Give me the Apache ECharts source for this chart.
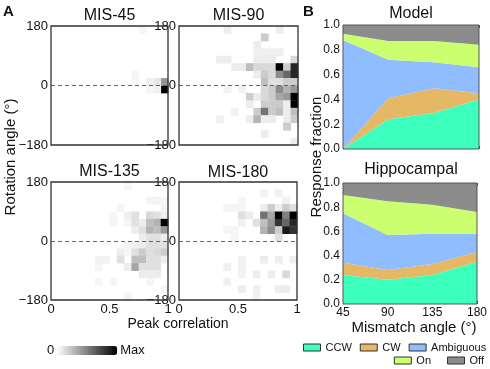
<!DOCTYPE html>
<html><head><meta charset="utf-8">
<script src="https://cdn.jsdelivr.net/npm/echarts@6/dist/echarts.min.js"></script>
<style>html,body{margin:0;padding:0;background:#fff}#c{width:490px;height:369px}</style>
</head><body><div id="c"></div>
<script>
const FONT = '"Liberation Sans", Arial, Helvetica, sans-serif';

// ---------- Panel A: 2-D histograms, 16 x 16 bins ----------
// each cell: [x bin (0 = peak corr 0..0.0625), y bin counted from top (0 = 157.5..180 deg), relative density 0..1]
const heatTitles = ['MIS-45', 'MIS-90', 'MIS-135', 'MIS-180'];
const heatXTicks = [0, 0.5, 1];
const heatYTicks = [-180, 0, 180];
const mis45Cells = [
  [15, 8, 1.0], [15, 7, 0.42], [14, 7, 0.10], [13, 7, 0.06], [14, 8, 0.06], [13, 8, 0.04],
  [11, 6, 0.04], [11, 7, 0.03], [12, 0, 0.03]
];
const mis90Cells = [
  [6, 0, 0.07], [13, 0, 0.07],
  [11, 1, 0.20],
  [10, 2, 0.07],
  [10, 3, 0.06], [11, 3, 0.06], [12, 3, 0.06], [13, 3, 0.06],
  [5, 4, 0.07], [6, 4, 0.07], [10, 4, 0.07], [11, 4, 0.07], [12, 4, 0.07], [15, 4, 0.15],
  [7, 5, 0.07], [8, 5, 0.07], [9, 5, 0.25], [10, 5, 0.15], [11, 5, 0.15], [12, 5, 0.15], [13, 5, 1.0], [14, 5, 0.20], [15, 5, 0.85],
  [10, 6, 0.07], [11, 6, 0.20], [12, 6, 0.15], [13, 6, 0.45], [14, 6, 0.60], [15, 6, 0.85],
  [11, 7, 0.25], [12, 7, 0.12], [13, 7, 0.12], [14, 7, 0.20], [15, 7, 0.20],
  [6, 8, 0.05], [8, 8, 0.05], [11, 8, 0.15], [12, 8, 0.20], [13, 8, 0.45], [14, 8, 0.30], [15, 8, 0.40],
  [9, 9, 0.20], [10, 9, 0.07], [11, 9, 0.15], [12, 9, 0.20], [13, 9, 0.35], [14, 9, 0.40], [15, 9, 1.0],
  [9, 10, 0.07], [11, 10, 0.20], [12, 10, 0.20], [13, 10, 0.20], [14, 10, 0.07], [15, 10, 1.0],
  [7, 11, 0.05], [10, 11, 0.20], [11, 11, 0.55], [12, 11, 0.20], [13, 11, 0.25], [14, 11, 0.07], [15, 11, 0.25],
  [5, 12, 0.06], [9, 12, 0.07], [10, 12, 0.30], [11, 12, 0.07], [12, 12, 0.07], [14, 12, 0.07], [15, 12, 0.20],
  [14, 13, 0.20],
  [11, 14, 0.07],
  [15, 15, 0.07]
];
const mis135Cells = [
  [10, 0, 0.03],
  [13, 2, 0.04], [14, 2, 0.05], [15, 2, 0.03],
  [9, 3, 0.04], [15, 3, 0.04],
  [8, 4, 0.03], [10, 4, 0.06], [11, 4, 0.12], [13, 4, 0.15], [14, 4, 0.12], [15, 4, 0.06],
  [8, 5, 0.04], [10, 5, 0.04], [11, 5, 0.12], [12, 5, 0.07], [13, 5, 0.25], [14, 5, 0.30], [15, 5, 1.0],
  [11, 6, 0.07], [12, 6, 0.12], [13, 6, 0.30], [14, 6, 0.25], [15, 6, 0.40],
  [12, 7, 0.07], [13, 7, 0.12], [14, 7, 0.12], [15, 7, 0.07],
  [10, 8, 0.04], [11, 8, 0.06], [12, 8, 0.07], [13, 8, 0.12], [14, 8, 0.12], [15, 8, 0.12],
  [9, 9, 0.07], [10, 9, 0.04], [11, 9, 0.12], [12, 9, 0.20], [13, 9, 0.12], [14, 9, 0.15], [15, 9, 0.20],
  [6, 10, 0.05], [7, 10, 0.05], [9, 10, 0.12], [11, 10, 0.25], [12, 10, 0.25], [13, 10, 0.12], [14, 10, 0.12], [15, 10, 0.07],
  [6, 11, 0.04], [10, 11, 0.07], [11, 11, 0.35], [12, 11, 0.12], [13, 11, 0.12], [14, 11, 0.12],
  [12, 12, 0.07], [13, 12, 0.07], [14, 12, 0.07],
  [6, 13, 0.04], [8, 13, 0.04], [13, 13, 0.04],
  [15, 14, 0.04],
  [10, 15, 0.04]
];
const mis180Cells = [
  [11, 1, 0.05], [13, 1, 0.05],
  [8, 2, 0.04], [14, 2, 0.06],
  [6, 3, 0.04], [7, 3, 0.04], [8, 3, 0.04], [11, 3, 0.07], [12, 3, 0.20], [13, 3, 0.07], [14, 3, 0.20], [15, 3, 0.12],
  [8, 4, 0.12], [9, 4, 0.07], [11, 4, 0.55], [12, 4, 0.35], [13, 4, 1.0], [14, 4, 0.50], [15, 4, 1.0],
  [8, 5, 0.05], [10, 5, 0.12], [11, 5, 0.25], [12, 5, 0.40], [13, 5, 0.80], [14, 5, 0.60], [15, 5, 0.85],
  [6, 6, 0.04], [7, 6, 0.04], [11, 6, 0.30], [12, 6, 0.45], [13, 6, 0.20], [14, 6, 0.90], [15, 6, 0.80],
  [7, 7, 0.04], [13, 7, 0.12],
  [8, 10, 0.05], [11, 10, 0.07], [13, 10, 0.07], [15, 10, 0.06],
  [6, 11, 0.06], [8, 11, 0.06],
  [8, 12, 0.05], [10, 12, 0.07], [12, 12, 0.07], [14, 12, 0.15],
  [6, 13, 0.06],
  [8, 14, 0.07], [10, 14, 0.06], [13, 14, 0.07], [14, 14, 0.07],
  [10, 15, 0.05]
];
const heatCells = [mis45Cells, mis90Cells, mis135Cells, mis180Cells];
const X_BINS = 16, Y_BINS = 16;
const X_STEP = 1 / X_BINS, Y_STEP = 360 / Y_BINS;

// ---------- Panel B: stacked response fractions ----------
const mismatchAngles = ['45', '90', '135', '180'];
const responseNames = ['CCW', 'CW', 'Ambiguous', 'On', 'Off'];
const responseColors = ['#3cffbe', '#e6b865', '#8fbdff', '#ccff70', '#8c8c8c'];
const modelCCW = [0.00, 0.24, 0.29, 0.40];
const modelCW = [0.00, 0.17, 0.20, 0.05];
const modelAmbiguous = [0.88, 0.31, 0.21, 0.21];
const modelOn = [0.05, 0.15, 0.17, 0.18];
const modelOff = [0.07, 0.13, 0.13, 0.16];
const hippoCCW = [0.24, 0.20, 0.24, 0.35];
const hippoCW = [0.10, 0.08, 0.09, 0.08];
const hippoAmbiguous = [0.41, 0.29, 0.25, 0.15];
const hippoOn = [0.15, 0.28, 0.24, 0.18];
const hippoOff = [0.10, 0.15, 0.18, 0.24];
const modelSeries = [modelCCW, modelCW, modelAmbiguous, modelOn, modelOff];
const hippoSeries = [hippoCCW, hippoCW, hippoAmbiguous, hippoOn, hippoOff];
const responseTicks = [0, 0.2, 0.4, 0.6, 0.8, 1.0];

// ---------- layout ----------
const gridsA = [
  {left: 51, top: 26, width: 117, height: 119},
  {left: 179, top: 26, width: 119, height: 119},
  {left: 51, top: 182, width: 117, height: 118},
  {left: 179, top: 182, width: 118, height: 118}
];
const gridsB = [
  {left: 343, top: 25, width: 136, height: 124},
  {left: 343, top: 183, width: 136, height: 121}
];
const grid = [];
gridsA.forEach(g => grid.push(Object.assign({show: true, backgroundColor: 'transparent', borderColor: '#333', borderWidth: 1.3, z: 10}, g)));
gridsB.forEach(g => grid.push(Object.assign({show: true, backgroundColor: 'transparent', borderColor: '#555', borderWidth: 1, z: 10}, g)));

const xAxis = [], yAxis = [], series = [];
for (let i = 0; i < 4; i++) {
  xAxis.push({
    type: 'value', gridIndex: i, min: heatXTicks[0], max: heatXTicks[2], interval: heatXTicks[1] - heatXTicks[0],
    axisLine: {show: false}, axisTick: {show: false}, splitLine: {show: false},
    axisLabel: {show: i >= 2, fontSize: 13, margin: 3, color: '#111', fontFamily: FONT}
  });
  yAxis.push({
    type: 'value', gridIndex: i, min: heatYTicks[0], max: heatYTicks[2], interval: heatYTicks[1] - heatYTicks[0],
    axisLine: {show: false}, axisTick: {show: false}, splitLine: {show: false},
    axisLabel: {fontSize: 13, margin: 3, color: '#111', fontFamily: FONT,
      formatter: v => String(v).replace('-', '\u2212')}
  });
}
for (let p = 0; p < 2; p++) {
  xAxis.push({
    type: 'category', gridIndex: 4 + p, data: mismatchAngles, boundaryGap: false,
    axisLine: {show: false}, axisTick: {show: true, inside: true, length: 3, lineStyle: {color: '#555'}},
    splitLine: {show: false},
    axisLabel: {show: p === 1, interval: 0, fontSize: 12, margin: 3, color: '#111', fontFamily: FONT}
  });
  yAxis.push({
    type: 'value', gridIndex: 4 + p, min: responseTicks[0], max: responseTicks[5], interval: responseTicks[1] - responseTicks[0],
    axisLine: {show: false}, axisTick: {show: false}, splitLine: {show: false},
    axisLabel: {fontSize: 12, margin: 3, color: '#111', fontFamily: FONT, formatter: v => v.toFixed(1)}
  });
}
for (let p = 0; p < 2; p++) {
  xAxis.push({
    type: 'category', gridIndex: 4 + p, position: 'top', data: mismatchAngles, boundaryGap: false,
    axisLine: {show: false}, axisTick: {show: true, inside: true, length: 3, lineStyle: {color: '#555'}},
    axisLabel: {show: false}, splitLine: {show: false}
  });
}

function renderCell(params, api) {
  const p0 = api.coord([api.value(0) - X_STEP / 2, api.value(1) + Y_STEP / 2]);
  const p1 = api.coord([api.value(0) + X_STEP / 2, api.value(1) - Y_STEP / 2]);
  return {
    type: 'rect',
    shape: {x: p0[0], y: p0[1], width: p1[0] - p0[0] + 0.4, height: p1[1] - p0[1] + 0.4},
    style: {fill: api.visual('color')}
  };
}

heatCells.forEach((cells, i) => {
  series.push({
    type: 'custom', xAxisIndex: i, yAxisIndex: i, renderItem: renderCell,
    dimensions: ['corr', 'angle', 'density'], encode: {x: 0, y: 1},
    data: cells.map(([c, r, v]) => [(c + 0.5) * X_STEP, 180 - (r + 0.5) * Y_STEP, v]),
    silent: true, z: 2,
    markLine: {
      silent: true, symbol: 'none', label: {show: false},
      lineStyle: {type: [4, 3], color: '#666', width: 1.2},
      data: [{yAxis: 0}]
    }
  });
});

[modelSeries, hippoSeries].forEach((set, p) => {
  set.forEach((vals, k) => {
    series.push({
      type: 'line', name: responseNames[k], xAxisIndex: 4 + p, yAxisIndex: 4 + p,
      stack: 'panel' + p, data: vals, symbol: 'none', showSymbol: false,
      lineStyle: {width: 0}, itemStyle: {color: responseColors[k]},
      areaStyle: {color: responseColors[k], opacity: 1}, silent: true, z: 2
    });
  });
});

const txt = (text, x, y, size, extra) => Object.assign({
  type: 'text', x: x, y: y,
  style: Object.assign({text: text, fontSize: size, fontFamily: FONT, fill: '#111',
    align: 'center', verticalAlign: 'middle', textAlign: 'center', textVerticalAlign: 'middle'}, (extra && extra.style) || {})
}, extra ? {rotation: extra.rotation || 0} : {});

const graphic = [
  txt('A', 8.5, 11.5, 15, {style: {fontWeight: 'bold'}}),
  txt('B', 308.5, 11.5, 15, {style: {fontWeight: 'bold'}}),
  txt(heatTitles[0], 109.5, 16, 16),
  txt(heatTitles[1], 238.5, 15.5, 16),
  txt(heatTitles[2], 109.5, 172, 16),
  txt(heatTitles[3], 238, 172.5, 16),
  txt('Model', 411, 14, 16),
  txt('Hippocampal', 411, 170, 16),
  txt('Rotation angle (\u00b0)', 11, 157, 15, {rotation: Math.PI / 2}),
  txt('Response fraction', 317, 157, 15, {rotation: Math.PI / 2}),
  txt('Peak correlation', 178, 324, 14),
  txt('Mismatch angle (\u00b0)', 414, 328, 15)
];

const legendBase = {
  orient: 'horizontal', icon: 'rect', itemWidth: 17, itemHeight: 7, padding: 0, selectedMode: false,
  textStyle: {fontSize: 11, fontFamily: FONT, color: '#111'},
  itemStyle: {borderColor: '#333', borderWidth: 1}
};

const option = {
  animation: false,
  backgroundColor: '#fff',
  grid: grid, xAxis: xAxis, yAxis: yAxis, series: series, graphic: graphic,
  legend: [
    Object.assign({}, legendBase, {data: responseNames.slice(0, 3), left: 303, top: 342, itemGap: 8}),
    Object.assign({}, legendBase, {data: responseNames.slice(3), right: 6, top: 355, itemGap: 16})
  ],
  visualMap: {
    type: 'continuous', min: 0, max: 1, dimension: 2, seriesIndex: [0, 1, 2, 3],
    orient: 'horizontal', left: 47, top: 344, itemWidth: 9, itemHeight: 60,
    text: ['Max', '0'], textGap: 3, padding: 0, calculable: false, hoverLink: false,
    inRange: {color: ['#ffffff', '#000000']},
    textStyle: {fontSize: 13, color: '#111', fontFamily: FONT}
  }
};

const chart = echarts.init(document.getElementById('c'), null, {renderer: 'canvas'});
chart.setOption(option);
</script></body></html>
